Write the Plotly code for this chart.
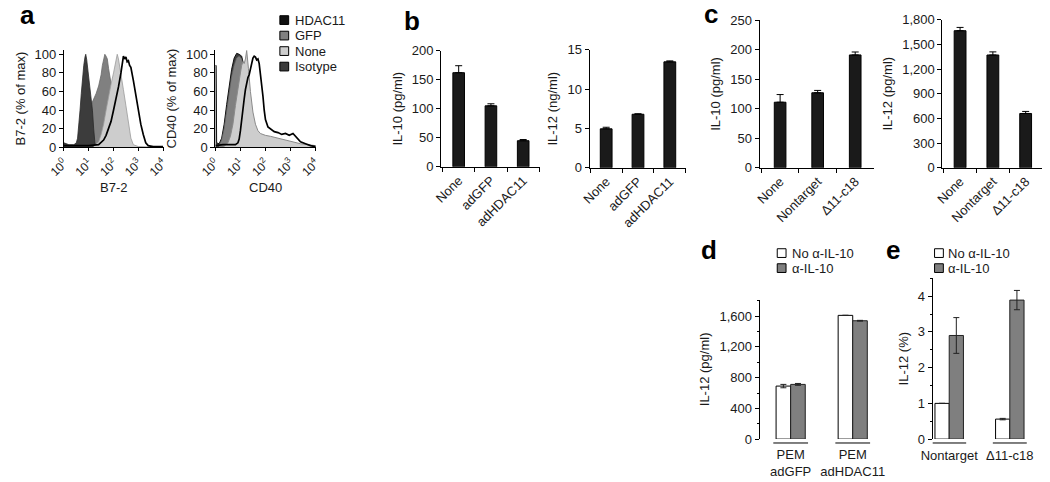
import plotly.graph_objects as go

W, H = 1050, 482

# ---------------- data ----------------
# (a) flow cytometry overlays: x = log10 fluorescence (decades 0..4), y = % of max
b72_iso_x = [0, 0.2, 0.4, 0.5, 0.55, 0.6, 0.65, 0.7, 0.75, 0.8, 0.85, 0.88, 0.92, 0.96, 1.0, 1.05, 1.1, 1.15, 1.2, 1.25, 1.3, 4.0]
b72_iso_y = [5, 3, 3, 5, 10, 22, 40, 58, 75, 88, 97, 100, 94, 85, 75, 62, 52, 40, 20, 5, 0, 0]
b72_gfp_x = [0.7, 0.8, 0.9, 1.0, 1.1, 1.2, 1.3, 1.4, 1.5, 1.55, 1.6, 1.65, 1.7, 1.75, 1.8, 1.9, 2.0, 2.1, 2.2, 2.4, 2.6, 3.0]
b72_gfp_y = [0, 5, 15, 32, 46, 52, 58, 66, 78, 88, 95, 100, 98, 95, 85, 68, 50, 32, 20, 8, 3, 0]
b72_none_x = [1.2, 1.4, 1.5, 1.6, 1.7, 1.8, 1.9, 2.0, 2.05, 2.1, 2.15, 2.2, 2.3, 2.4, 2.5, 2.6, 2.7, 2.8, 3.0, 3.5, 4.0]
b72_none_y = [1, 6, 14, 25, 40, 55, 68, 80, 88, 96, 100, 95, 80, 62, 45, 25, 10, 3, 1, 0.5, 0]
b72_hdac_x = [0, 0.5, 1.0, 1.4, 1.6, 1.7, 1.8, 1.9, 2.0, 2.1, 2.2, 2.3, 2.35, 2.4, 2.45, 2.5, 2.55, 2.6, 2.65, 2.7, 2.8, 2.9, 3.0, 3.1, 3.2, 3.3, 3.4, 3.6, 4.0]
b72_hdac_y = [2, 2, 2, 3, 8, 13, 20, 28, 40, 52, 65, 80, 90, 98, 95, 97, 92, 93, 88, 86, 72, 55, 42, 25, 14, 5, 2, 1, 1]

cd40_iso_x = [0, 0.01, 0.03, 0.05, 0.15, 0.25, 0.35, 0.45, 0.55, 0.65, 0.75, 0.85, 0.95, 1.05, 1.15, 1.25, 1.35, 1.45, 1.6, 1.8, 2.0, 2.5]
cd40_iso_y = [88, 88, 88, 5, 4, 10, 25, 46, 66, 84, 96, 101, 100, 98, 86, 64, 44, 28, 14, 7, 3, 1]
cd40_gfp_x = [0.15, 0.25, 0.35, 0.45, 0.55, 0.65, 0.75, 0.85, 0.95, 1.05, 1.15, 1.25, 1.35, 1.45, 1.6, 1.8, 2.0, 2.3, 2.6, 3.0, 3.5, 4.0]
cd40_gfp_y = [2, 8, 20, 40, 58, 76, 88, 96, 98, 95, 83, 62, 42, 27, 16, 10, 8, 6, 5, 4, 2, 1]
cd40_none_x = [0.3, 0.5, 0.6, 0.7, 0.8, 0.9, 1.0, 1.05, 1.1, 1.15, 1.2, 1.25, 1.28, 1.32, 1.4, 1.5, 1.6, 1.7, 1.8, 2.0, 2.2, 2.5, 2.8, 3.1, 3.4, 3.7, 4.0]
cd40_none_y = [0, 5, 12, 25, 45, 65, 80, 88, 92, 90, 95, 104, 98, 85, 60, 38, 25, 18, 15, 13, 12, 10, 8, 6, 4, 3, 2]
cd40_hdac_x = [0, 0.3, 0.6, 0.8, 0.9, 0.95, 1.0, 1.05, 1.1, 1.15, 1.2, 1.25, 1.3, 1.35, 1.4, 1.45, 1.5, 1.55, 1.6, 1.65, 1.7, 1.75, 1.8, 1.85, 1.9, 1.95, 2.0, 2.1, 2.2, 2.35, 2.5, 2.65, 2.8, 2.95, 3.1, 3.2, 3.3, 3.4, 3.6, 3.8, 4.0]
cd40_hdac_y = [2, 3, 3, 3, 5, 9, 18, 32, 42, 52, 62, 70, 75, 78, 85, 92, 96, 98, 97, 94, 95, 90, 80, 70, 55, 40, 30, 22, 20, 17, 16, 14, 15, 13, 15, 12, 9, 6, 4, 2, 1]

decade_ticks = [0, 1, 2, 3, 4]
decade_labels = ["10<sup>0</sup>", "10<sup>1</sup>", "10<sup>2</sup>", "10<sup>3</sup>", "10<sup>4</sup>"]
hist_names = ["HDAC11", "GFP", "None", "Isotype"]

# (b)
b_cats = ["None", "adGFP", "adHDAC11"]
b_il10 = [162, 105, 45]
b_il10_err = [12, 3.5, 2]
b_il12 = [4.95, 6.8, 13.45]
b_il12_err = [0.2, 0.06, 0.12]

# (c)
c_cats = ["None", "Nontarget", "Δ11-c18"]
c_il10 = [111, 127, 191]
c_il10_err = [13, 4, 5]
c_il12 = [1665, 1370, 660]
c_il12_err = [40, 38, 25]

# (d)
d_cats = ["PEM<br>adGFP", "PEM<br>adHDAC11"]
d_no = [690, 1610]
d_no_err = [22, 0]
d_anti = [712, 1540]
d_anti_err = [12, 5]

# (e)
e_cats = ["Nontarget", "Δ11-c18"]
e_no = [1.0, 0.56]
e_no_err = [0, 0.02]
e_anti = [2.9, 3.89]
e_anti_err = [0.5, 0.27]

series_de = ["No α-IL-10", "α-IL-10"]

# ---------------- style ----------------
FONT = "Liberation Sans, Arial, Helvetica, sans-serif"
TXT = "#1a1a1a"
f13 = dict(family=FONT, size=13, color=TXT)
C_HDAC, C_GFP, C_NONE, C_ISO = "#111111", "#808080", "#cdcdcd", "#3c3c3c"
C_BAR = "#1a1a1a"
C_GRAY = "#7f7f7f"


def px_x(v):
    return v / W


def px_y(v):
    return 1 - v / H


def dx(l, r):
    return [l / W, r / W]


def dy(top, bottom):
    return [1 - bottom / H, 1 - top / H]


fig = go.Figure()


def hist(x, y, n, fillcolor, linecolor, lw, fill=True):
    fig.add_trace(go.Scatter(
        x=x, y=y, xaxis="x" + n, yaxis="y" + n, mode="lines",
        line=dict(color=linecolor, width=lw, shape="linear"),
        fill="tozeroy" if fill else "none", fillcolor=fillcolor,
        showlegend=False, hoverinfo="skip"))


# B7-2 (axis 1): GFP under isotype, then None, HDAC11 line on top
hist(b72_gfp_x, b72_gfp_y, "", C_GFP, "#6a6a6a", 0.8)
hist(b72_iso_x, b72_iso_y, "", C_ISO, "#2a2a2a", 0.8)
hist(b72_none_x, b72_none_y, "", C_NONE, "#9a9a9a", 0.8)
hist(b72_hdac_x, b72_hdac_y, "", None, "black", 1.7, fill=False)
# CD40 (axis 2)
hist(cd40_iso_x, cd40_iso_y, "2", C_ISO, "#111111", 1.0)
hist(cd40_gfp_x, cd40_gfp_y, "2", C_GFP, "#6a6a6a", 0.6)
hist(cd40_none_x, cd40_none_y, "2", C_NONE, "#8a8a8a", 1.0)
hist(cd40_hdac_x, cd40_hdac_y, "2", None, "black", 1.7, fill=False)


def solid_bars(cats, vals, err, n, width):
    fig.add_trace(go.Bar(
        x=cats, y=vals, xaxis="x" + n, yaxis="y" + n, width=width,
        marker=dict(color=C_BAR, line=dict(color="black", width=1)),
        error_y=dict(type="data", array=err, arrayminus=[0] * len(err), symmetric=False,
                     color="black", thickness=1, width=3.5),
        showlegend=False, hoverinfo="skip"))


solid_bars(b_cats, b_il10, b_il10_err, "3", 0.36)
solid_bars(b_cats, b_il12, b_il12_err, "4", 0.37)
solid_bars(c_cats, c_il10, c_il10_err, "5", 0.31)
solid_bars(c_cats, c_il12, c_il12_err, "6", 0.36)

BW = 0.235


def pair_bars(cats, no, no_err, anti, anti_err, n):
    fig.add_trace(go.Bar(
        x=cats, y=no, xaxis="x" + n, yaxis="y" + n, width=BW, offset=-BW,
        marker=dict(color="white", line=dict(color="black", width=1)),
        error_y=dict(type="data", array=no_err, visible=True, color="#222", thickness=1, width=3),
        showlegend=False, hoverinfo="skip", name=series_de[0]))
    fig.add_trace(go.Bar(
        x=cats, y=anti, xaxis="x" + n, yaxis="y" + n, width=BW, offset=0,
        marker=dict(color=C_GRAY, line=dict(color="#222", width=1)),
        error_y=dict(type="data", array=anti_err, visible=True, color="#222", thickness=1, width=3),
        showlegend=False, hoverinfo="skip", name=series_de[1]))


pair_bars(d_cats, d_no, d_no_err, d_anti, d_anti_err, "7")
pair_bars(e_cats, e_no, e_no_err, e_anti, e_anti_err, "8")

# ---------------- axes ----------------
base = dict(showline=True, linecolor="black", linewidth=1, ticks="outside", ticklen=4,
            tickcolor="black", tickwidth=1, showgrid=False, zeroline=False,
            tickfont=f13, title_font=f13, fixedrange=True)

hx = dict(base, range=[0, 4.02], tickvals=decade_ticks, ticktext=decade_labels, tickangle=-45,
          ticklen=3, tickfont=dict(family=FONT, size=12, color=TXT))
hy = dict(base, range=[0, 105], tickvals=[0, 20, 40, 60, 80, 100])

cat_x = dict(base, type="category", tickson="boundaries", tickangle=-45)

layout_axes = dict(
    xaxis=dict(hx, domain=dx(47, 149), anchor="y", title=dict(text="B7-2", standoff=4)),
    yaxis=dict(hy, domain=dy(44, 145), anchor="x", title=dict(text="B7-2 (% of max)", standoff=6)),
    xaxis2=dict(hx, domain=dx(202, 305), anchor="y2", title=dict(text="CD40", standoff=4)),
    yaxis2=dict(hy, domain=dy(44, 145), anchor="x2", title=dict(text="CD40 (% of max)", standoff=6)),
    xaxis3=dict(cat_x, domain=dx(433, 534), anchor="y3", range=[-0.545, 2.515], categoryarray=b_cats),
    yaxis3=dict(base, domain=dy(45, 165), anchor="x3", range=[0, 200], dtick=50,
                title=dict(text="IL-10 (pg/ml)", standoff=6)),
    xaxis4=dict(cat_x, domain=dx(585, 684), anchor="y4", range=[-0.52, 2.52], categoryarray=b_cats),
    yaxis4=dict(base, domain=dy(44, 166), anchor="x4", range=[0, 15], dtick=5,
                title=dict(text="IL-12 (ng/ml)", standoff=6)),
    xaxis5=dict(cat_x, domain=dx(759, 876), anchor="y5", range=[-0.545, 2.5], categoryarray=c_cats),
    yaxis5=dict(base, domain=dy(13.5, 166), anchor="x5", range=[0, 250], dtick=50,
                title=dict(text="IL-10 (pg/ml)", standoff=6)),
    xaxis6=dict(cat_x, domain=dx(946, 1048), anchor="y6", range=[-0.54, 2.5], categoryarray=c_cats),
    yaxis6=dict(base, domain=dy(13, 166), anchor="x6", range=[0, 1800], dtick=300, tickformat=",",
                title=dict(text="IL-12 (pg/ml)", standoff=6)),
    xaxis7=dict(base, type="category", domain=dx(759, 886), anchor="y7", range=[-0.5, 1.5],
                showline=False, ticks="", categoryarray=d_cats, tickangle=0, ticklabelstandoff=6),
    yaxis7=dict(base, domain=dy(302, 446), anchor="x7", range=[0, 1815], dtick=400, tickformat=",",
                minor=dict(dtick=200, ticks="outside", ticklen=2, tickcolor="black"),
                title=dict(text="IL-12 (pg/ml)", standoff=6)),
    xaxis8=dict(base, type="category", domain=dx(936, 1048), anchor="y8", range=[-0.274, 1.532],
                showline=False, ticks="", categoryarray=e_cats, tickangle=0, ticklabelstandoff=7),
    yaxis8=dict(base, domain=dy(280, 446), anchor="x8", range=[0, 4.5], dtick=1,
                minor=dict(dtick=0.5, ticks="outside", ticklen=2, tickcolor="black"),
                title=dict(text="IL-12 (%)", standoff=6)),
)

# ---------------- legends, labels, group underlines ----------------
annotations = []
shapes = []

for letter, xl, base_y in [("a", 0, 20), ("b", 393, 26), ("c", 700, 19), ("d", 697, 263), ("e", 886, 263)]:
    annotations.append(dict(text=letter, xref="paper", yref="paper", x=px_x(xl), y=px_y(base_y + 5.5),
                            xanchor="left", yanchor="bottom", showarrow=False,
                            font=dict(family=FONT, size=26, color="black", weight="bold")))


def legend_block(names, fills, sq_left, text_left, row0, step):
    for i, (nm, fc) in enumerate(zip(names, fills)):
        cy = row0 + i * step
        shapes.append(dict(type="rect", xref="paper", yref="paper",
                           x0=px_x(sq_left), x1=px_x(sq_left + 9), y0=px_y(cy + 4.5), y1=px_y(cy - 4.5),
                           fillcolor=fc, line=dict(color="black", width=1)))
        annotations.append(dict(text=nm, xref="paper", yref="paper", x=px_x(text_left), y=px_y(cy),
                                xanchor="left", yanchor="middle", showarrow=False, font=f13))


legend_block(hist_names, [C_HDAC, C_GFP, C_NONE, C_ISO], 268, 281, 13.5, 16)
legend_block(series_de, ["white", C_GRAY], 777, 790, 254, 15.5)
legend_block(series_de, ["white", C_GRAY], 938, 950, 254, 15.5)

# underline under each group (d, e)
for n, cats in [("7", d_cats), ("8", e_cats)]:
    for i, _ in enumerate(cats):
        shapes.append(dict(type="line", xref="x" + n, yref="paper", x0=i - 0.28, x1=i + 0.28,
                           y0=px_y(450), y1=px_y(450), line=dict(color="black", width=1)))

fig.update_layout(
    width=W, height=H, margin=dict(l=0, r=0, t=0, b=0), autosize=False,
    paper_bgcolor="white", plot_bgcolor="white",
    barmode="overlay", showlegend=False,
    font=f13, annotations=annotations, shapes=shapes,
    **layout_axes,
)

fig.write_html("out.html", config={"displayModeBar": False},
               post_script="document.body.style.margin='0';document.body.style.padding='0';"
                           "document.body.style.overflow='hidden';")
